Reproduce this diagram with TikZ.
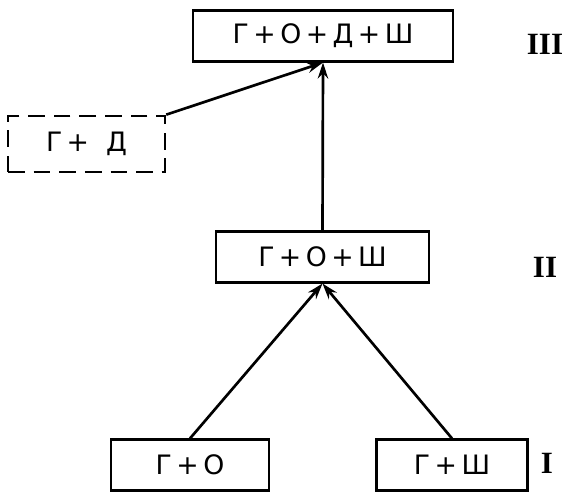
\documentclass[tikz,border=0pt]{standalone}
\usepackage{fontspec}
\setmainfont{DejaVu Sans}
\newfontfamily\romfont{Liberation Serif}
\usetikzlibrary{arrows.meta,positioning}
\tikzset{
  >={Stealth[length=4mm,width=2.6mm]},
  stage/.style={draw,line width=1.9pt,minimum height=12.6mm,align=center,
    font=\fontsize{19}{22}\selectfont,inner sep=0pt},
  guess/.style={stage,dash pattern=on 4.2mm off 2.2mm},
  link/.style={->,line width=1.9pt},
  level/.style={font=\romfont\fontsize{22}{26}\selectfont\bfseries},
}
\begin{document}
\begin{tikzpicture}[x=0.025cm,y=-0.025cm]
  \useasboundingbox (0,0) rectangle (569,497);
  % stages
  \node[stage,minimum width=65mm] (all) at (323,36) {Г\,+\,О\,+\,Д\,+\,Ш};
  \node[guess,minimum width=39.2mm,minimum height=14mm] (gd) at (86.5,144) {Г\,+\ \ Д};
  \node[stage,minimum width=53.2mm] (gos) at (322.5,257) {Г\,+\,О\,+\,Ш};
  \node[stage,minimum width=39.5mm] (go) at (190,465) {Г\,+\,О};
  \node[stage,minimum width=37.7mm] (gs) at (452,465) {Г\,+\,Ш};
  % levels
  \node[level] (l3) at (545,44) {III};
  \node[level] (l2) at (545,267) {II};
  \node[level] (l1) at (547,463) {I};
  % links
  \draw[link] (gos.north) -- (all.south);
  \draw[link] (gd.north east) -- (all.south);
  \draw[link] (go.north) -- (gos.south);
  \draw[link] (gs.north) -- (gos.south);
\end{tikzpicture}
\end{document}
